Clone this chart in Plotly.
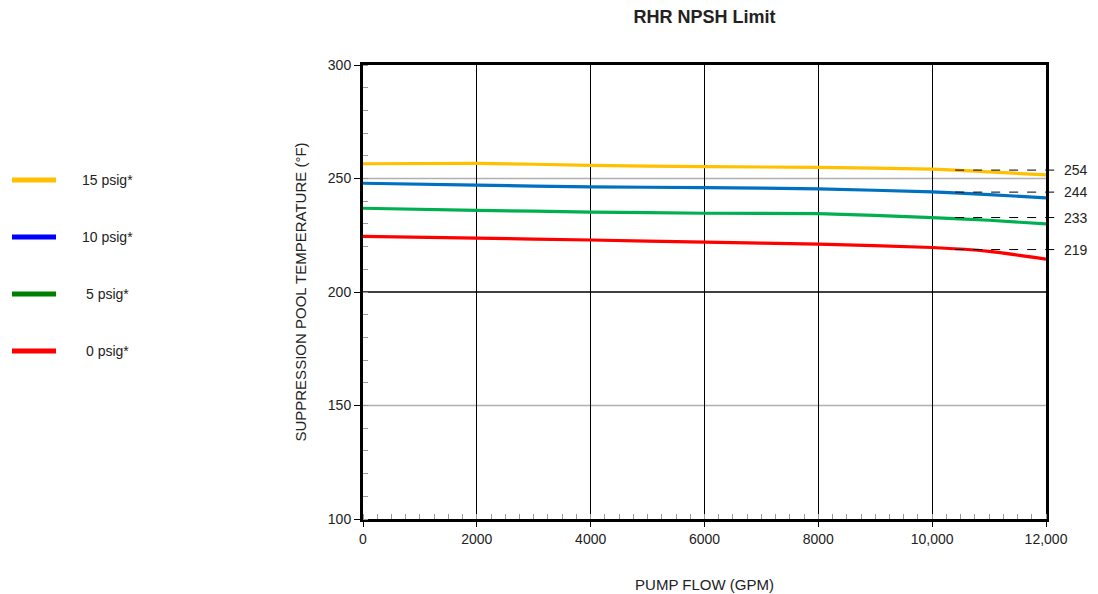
import plotly.graph_objects as go

flow = [0, 2000, 4000, 6000, 8000, 10000, 11000, 12000]
psig15 = [256.5, 256.7, 255.8, 255.2, 254.9, 254.1, 252.9, 251.6]
psig10 = [247.9, 247.1, 246.3, 246.0, 245.4, 244.1, 242.9, 241.5]
psig5 = [236.9, 236.0, 235.2, 234.7, 234.5, 232.8, 231.6, 230.0]
psig0 = [224.5, 223.7, 222.9, 222.0, 221.1, 219.6, 217.9, 214.5]

series_names = ["15 psig*", "10 psig*", "5 psig*", "0 psig*"]
series_values = [psig15, psig10, psig5, psig0]
line_colors = ["#FFC000", "#0070C0", "#00B050", "#FF0000"]
legend_colors = ["#FFC000", "#0000FF", "#008000", "#FF0000"]

limit_values = [253.7, 244.0, 232.8, 218.7]
limit_labels = ["254", "244", "233", "219"]

x_ticks = [0, 2000, 4000, 6000, 8000, 10000, 12000]
x_ticklabels = ["0", "2000", "4000", "6000", "8000", "10,000", "12,000"]
y_ticks = [100, 150, 200, 250, 300]
y_grid = [150, 200, 250]
y_grid_colors = ["#B0B0B0", "#000000", "#B0B0B0"]

FONT = "Liberation Sans, Arial"
TXT = "#222222"
FS = 15

# page has an 8px body margin; work in figure coordinates
OFF = 8
W, H = 1098 - OFF, 594 - OFF
L, R = 363 - OFF, 1046 - OFF
T, B = 65 - OFF, 519 - OFF

fig = go.Figure()
for name, vals, col in zip(series_names, series_values, line_colors):
    fig.add_trace(go.Scatter(x=flow, y=vals, mode="lines", name=name,
                             line=dict(color=col, width=3.2, shape="spline", smoothing=0.6),
                             showlegend=False, hoverinfo="skip"))

shapes = []
for gy, gc in zip(y_grid, y_grid_colors):
    shapes.append(dict(type="line", xref="paper", x0=0, x1=1, yref="y", y0=gy, y1=gy,
                       line=dict(color=gc, width=1.5), layer="below"))
for lv in limit_values:
    shapes.append(dict(type="line", xref="paper", x0=0.867, x1=1.018, yref="y", y0=lv, y1=lv,
                       line=dict(color="#000000", width=1, dash="dash"), layer="above"))

annotations = []
for lv, lab in zip(limit_values, limit_labels):
    annotations.append(dict(xref="paper", x=1.024, yref="y", y=lv, text=lab, showarrow=False,
                            xanchor="left", yanchor="middle",
                            font=dict(family=FONT, size=FS - 1, color=TXT)))

# manual legend on the left (page pixel positions)
legend_y = [180, 237, 294, 351]
for i, (name, col) in enumerate(zip(series_names, legend_colors)):
    py = legend_y[i] - OFF
    yp = (B - py) / (B - T)
    x0 = (12 - OFF - L) / (R - L)
    x1 = (56 - OFF - L) / (R - L)
    shapes.append(dict(type="line", xref="paper", yref="paper", x0=x0, x1=x1, y0=yp, y1=yp,
                       line=dict(color=col, width=5)))
    annotations.append(dict(xref="paper", yref="paper", x=(107 - OFF - L) / (R - L), y=yp, text=name,
                            showarrow=False, xanchor="center", yanchor="middle",
                            font=dict(family=FONT, size=FS - 1, color=TXT)))

fig.update_layout(
    width=W, height=H,
    margin=dict(l=L, r=W - R, t=T, b=H - B, autoexpand=False),
    paper_bgcolor="white", plot_bgcolor="white",
    title=dict(text="<b>RHR NPSH Limit</b>", x=(L + R) / 2 / W, xanchor="center",
               y=1 - (17 - OFF) / H, yanchor="middle", automargin=False,
               font=dict(family=FONT, size=18, color=TXT)),
    shapes=shapes, annotations=annotations,
    font=dict(family=FONT, size=FS, color=TXT),
)

fig.update_xaxes(range=[0, 12000], tickvals=x_ticks, ticktext=x_ticklabels,
                 tickfont=dict(size=FS - 1), automargin=False,
                 showgrid=True, gridcolor="#000000", gridwidth=1,
                 ticks="outside", ticklen=5, tickcolor="#000000",
                 minor=dict(ticks="inside", dtick=250, ticklen=5, tickcolor="#999999", showgrid=False),
                 showline=True, linecolor="#000000", linewidth=3, mirror=True,
                 zeroline=False,
                 title=dict(text="PUMP FLOW (GPM)", standoff=34,
                            font=dict(family=FONT, size=FS, color=TXT)))
fig.update_yaxes(range=[100, 300], tickvals=y_ticks, showgrid=False,
                 tickfont=dict(size=FS - 1), automargin=False,
                 ticks="outside", ticklen=6, tickcolor="#000000",
                 minor=dict(ticks="inside", dtick=10, ticklen=5, tickcolor="#999999", showgrid=False),
                 showline=True, linecolor="#000000", linewidth=3, mirror=True,
                 zeroline=False,
                 title=dict(text="SUPPRESSION POOL TEMPERATURE (°F)", standoff=18,
                            font=dict(family=FONT, size=FS, color=TXT)))

fig.write_html("out.html")
